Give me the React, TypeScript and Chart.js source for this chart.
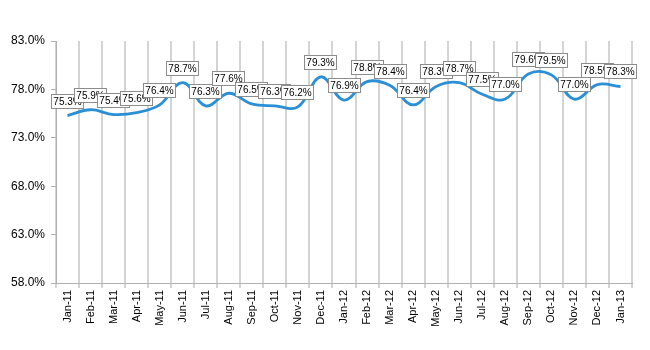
import React, { useEffect, useRef } from "react";
import { Chart, registerables } from "chart.js";

Chart.register(...registerables);

const categories = [
  "Jan-11", "Feb-11", "Mar-11", "Apr-11", "May-11", "Jun-11", "Jul-11", "Aug-11", "Sep-11",
  "Oct-11", "Nov-11", "Dec-11", "Jan-12", "Feb-12", "Mar-12", "Apr-12", "May-12", "Jun-12",
  "Jul-12", "Aug-12", "Sep-12", "Oct-12", "Nov-12", "Dec-12", "Jan-13",
];
const values = [
  75.3, 75.9, 75.4, 75.6, 76.4, 78.7, 76.3, 77.6, 76.5, 76.3, 76.2, 79.3, 76.9, 78.8, 78.4,
  76.4, 78.3, 78.7, 77.5, 77.0, 79.6, 79.5, 77.0, 78.5, 78.3,
];
const yMin = 58;
const yMax = 83;
const yStep = 5;

const labelPlugin = {
  id: "boxLabels",
  afterDatasetsDraw(chart: any) {
    const ctx = chart.ctx;
    const meta = chart.getDatasetMeta(0);
    ctx.save();
    ctx.font = "10px 'Liberation Sans', Arial, sans-serif";
    ctx.textAlign = "center";
    ctx.textBaseline = "middle";
    meta.data.forEach((pt: any, i: number) => {
      const text = values[i].toFixed(1) + "%";
      const w = Math.round(ctx.measureText(text).width + 4);
      const h = 14;
      const cx = pt.x - 0.5;
      const cy = pt.y - 15;
      const left = Math.round(cx - w / 2);
      const top = Math.round(cy - h / 2);
      ctx.fillStyle = "#ffffff";
      ctx.fillRect(left, top, w, h);
      ctx.strokeStyle = "#8c8c8c";
      ctx.lineWidth = 1;
      ctx.strokeRect(left + 0.5, top + 0.5, w, h);
      ctx.fillStyle = "#000000";
      ctx.fillText(text, left + w / 2 + 0.5, top + h / 2 + 1);
    });
    ctx.restore();
  },
};

export default function App() {
  const ref = useRef<HTMLCanvasElement>(null);
  useEffect(() => {
    document.body.style.margin = "0";
    const chart = new Chart(ref.current!, {
      type: "line",
      data: {
        labels: categories,
        datasets: [
          {
            data: values,
            borderColor: "#2a8fd4",
            borderWidth: 2.8,
            pointRadius: 0,
            tension: 0.4,
            fill: false,
          },
        ],
      },
      options: {
        animation: false,
        responsive: false,
        layout: { padding: { top: 41, right: 18, left: 0, bottom: 0 } },
        plugins: { legend: { display: false }, tooltip: { enabled: false } },
        scales: {
          x: {
            offset: true,
            grid: {
              offset: true,
              color: "#d4d4d4",
              lineWidth: 2,
              tickLength: 5,
              drawOnChartArea: true,
            },
            border: { color: "#b0b0b0", width: 1 },
            ticks: {
              autoSkip: false,
              maxRotation: 90,
              minRotation: 90,
              color: "#000",
              font: { family: "'Liberation Sans', Arial, sans-serif", size: 11 },
              padding: 2,
            },
            afterFit(scale: any) {
              scale.height = 67;
            },
          },
          y: {
            min: yMin,
            max: yMax,
            ticks: {
              stepSize: yStep,
              color: "#000",
              font: { family: "'Liberation Sans', Arial, sans-serif", size: 12 },
              callback: (v: any) => Number(v).toFixed(1) + "%",
              padding: 6,
            },
            grid: { drawOnChartArea: false, color: "#b0b0b0", tickLength: 5 },
            border: { color: "#b0b0b0", width: 1 },
            afterFit(scale: any) {
              scale.width = 56;
            },
          },
        },
      },
      plugins: [labelPlugin],
    });
    return () => chart.destroy();
  }, []);
  return <canvas ref={ref} width={650} height={350} style={{ display: "block" }} />;
}
